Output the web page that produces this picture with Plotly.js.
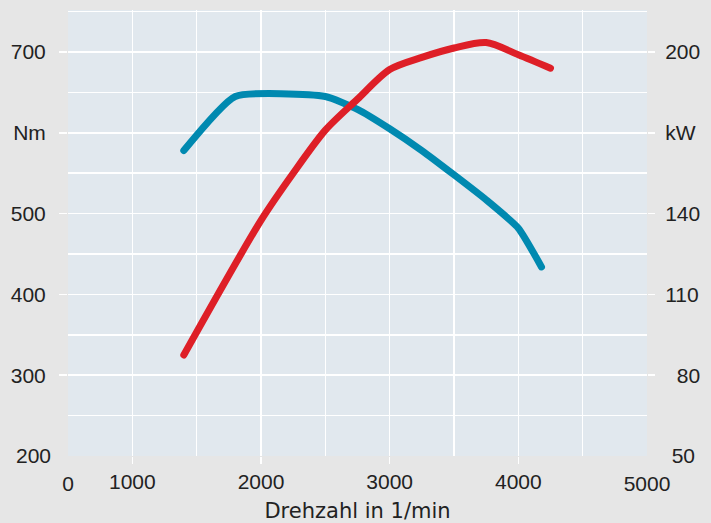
<!DOCTYPE html>
<html>
<head>
<meta charset="utf-8">
<script src="https://cdn.plot.ly/plotly-3.0.1.min.js"></script>
<style>
html,body{margin:0;padding:0;background:#e6e6e6;}
#chart{width:711px;height:523px;}
</style>
</head>
<body>
<div id="chart"></div>
<script>
// Torque curve (Nm), left axis
const torqueRpm = [1400, 1800, 2500, 2750, 3000, 3250, 3500, 3750, 4000, 4180];
const torqueNm  = [578, 645, 645, 629, 605, 578, 548, 517, 482, 434];
// Power curve (kW), right axis
const powerRpm = [1400, 2000, 2250, 2500, 2750, 3000, 3250, 3500, 3750, 4000, 4250];
const powerKw  = [87.5, 137.5, 155, 171, 182.5, 193.5, 198, 201.5, 203.5, 199, 194];
// Tick labels (major ticks with tick marks)
const xTickVals = [1000, 2000, 3000, 4000];
const xTickText = ["1000", "2000", "3000", "4000"];
// Edge labels drawn without tick marks
const xEdgeVals = [500, 5000];
const xEdgeText = ["0", "5000"];
const yTickVals = [300, 400, 500, 600, 700];
const yTickText = ["300", "400", "500", "Nm", "700"];
const yEdgeVals = [200];
const yEdgeText = ["200"];
const y2TickVals = [80, 110, 140, 170, 200];
const y2TickText = ["\u200780", "110", "140", "kW", "200"];
const y2EdgeVals = [50];
const y2EdgeText = ["\u200750"];
const xTitle = "Drehzahl in 1/min";

const xRange = [500, 5000];
const yRange = [200, 752];
const y2Range = [50, 215.6];

const tickFont = {family: "Liberation Sans, Arial, sans-serif", size: 21, color: "#222222"};

function emptyTrace(xa, ya) {
  return {x: [], y: [], type: "scatter", mode: "lines", xaxis: xa, yaxis: ya,
          hoverinfo: "skip", showlegend: false};
}

const traces = [
  emptyTrace("x2", "y"),
  emptyTrace("x", "y3"),
  emptyTrace("x", "y4"),
  {x: torqueRpm, y: torqueNm, type: "scatter", mode: "lines", xaxis: "x", yaxis: "y",
   line: {color: "#0089b0", width: 7, shape: "spline", smoothing: 0.5},
   hoverinfo: "skip", showlegend: false},
  {x: powerRpm, y: powerKw, type: "scatter", mode: "lines", xaxis: "x", yaxis: "y2",
   line: {color: "#de1f27", width: 7, shape: "spline", smoothing: 0.8},
   hoverinfo: "skip", showlegend: false}
];

const layout = {
  width: 711, height: 523,
  margin: {l: 68, r: 64, t: 10, b: 67, pad: 0},
  paper_bgcolor: "#e6e6e6",
  plot_bgcolor: "#e1e8ee",
  showlegend: false,
  xaxis: {
    range: xRange, tickmode: "array", tickvals: xTickVals, ticktext: xTickText,
    showgrid: true, gridcolor: "#ffffff", gridwidth: 1.5,
    minor: {dtick: 500, tick0: 500, showgrid: true, gridcolor: "#ffffff", gridwidth: 1.5, ticks: ""},
    ticks: "outside", ticklen: 7, tickwidth: 1.5, tickcolor: "#ffffff",
    zeroline: false, showline: false, tickfont: tickFont, ticklabelstandoff: 0,
    title: {text: xTitle, font: {family: "DejaVu Sans, sans-serif", size: 21, color: "#222222"}, standoff: 11}
  },
  xaxis2: {
    range: xRange, overlaying: "x", anchor: "y", side: "bottom",
    tickmode: "array", tickvals: xEdgeVals, ticktext: xEdgeText,
    showgrid: false, ticks: "", zeroline: false, showline: false,
    tickfont: tickFont, ticklabelstandoff: 13
  },
  yaxis: {
    range: yRange, tickmode: "array", tickvals: yTickVals, ticktext: yTickText,
    showgrid: true, gridcolor: "#ffffff", gridwidth: 1.5,
    minor: {dtick: 50, tick0: 200, showgrid: true, gridcolor: "#ffffff", gridwidth: 1.5, ticks: ""},
    ticks: "outside", ticklen: 8, tickwidth: 1.5, tickcolor: "#ffffff",
    zeroline: false, showline: false, tickfont: tickFont, ticklabelstandoff: 9
  },
  yaxis3: {
    range: yRange, overlaying: "y", anchor: "x", side: "left",
    tickmode: "array", tickvals: yEdgeVals, ticktext: yEdgeText,
    showgrid: false, ticks: "", zeroline: false, showline: false,
    tickfont: tickFont, ticklabelstandoff: 16
  },
  yaxis2: {
    range: y2Range, overlaying: "y", side: "right", anchor: "x",
    tickmode: "array", tickvals: y2TickVals, ticktext: y2TickText,
    showgrid: false, ticks: "outside", ticklen: 7, tickwidth: 1.5, tickcolor: "#ffffff",
    zeroline: false, showline: false, tickfont: tickFont, ticklabelstandoff: 6
  },
  yaxis4: {
    range: y2Range, overlaying: "y", side: "right", anchor: "x",
    tickmode: "array", tickvals: y2EdgeVals, ticktext: y2EdgeText,
    showgrid: false, ticks: "", zeroline: false, showline: false,
    tickfont: tickFont, ticklabelstandoff: 12
  }
};

Plotly.newPlot("chart", traces, layout, {staticPlot: true}).then(function(gd){
  gd.querySelectorAll(".scatterlayer .js-line").forEach(function(p){
    p.style.strokeLinecap = "round";
    p.style.strokeLinejoin = "round";
  });
});
</script>
</body>
</html>
